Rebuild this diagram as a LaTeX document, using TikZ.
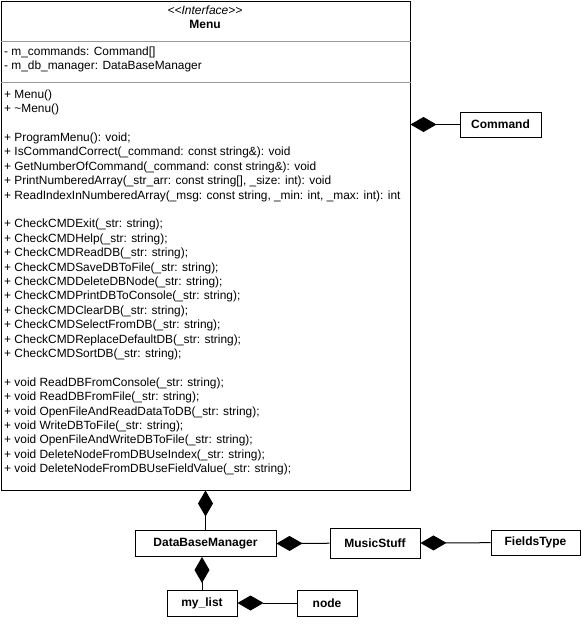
\documentclass[tikz,border=0pt]{standalone}
\usepackage{fontspec}
\setmainfont{Liberation Sans}
\usetikzlibrary{calc,positioning}
\usetikzlibrary{arrows.meta}
\tikzstyle{cls}=[draw, line width=1pt, fill=white, rectangle, minimum height=26pt, inner sep=0pt, font=\bfseries\fontsize{12}{14.4}\selectfont]
\tikzstyle{member}=[anchor=north west, align=left, inner sep=0pt, font=\fontsize{11.9}{14.4}\selectfont]
\tikzstyle{comp}=[{Diamond[length=26pt,width=15pt]}-, line width=1pt]
\tikzstyle{sep}=[draw=black!40, line width=1pt]

\begin{document}
\begin{tikzpicture}[x=1pt,y=-1pt]
\useasboundingbox (0,0) rectangle (581,630);
\node (menu) [draw, line width=1pt, rectangle, anchor=north west, minimum width=409pt, minimum height=489pt, inner sep=0pt] at (0.5,0.5) {};
\node (stereo) [font=\itshape\fontsize{12}{14.4}\selectfont, inner sep=0pt] at (205,10) {<\kern0pt<Interface>\kern0pt>};
\node (title) [font=\bfseries\fontsize{12}{14.4}\selectfont, inner sep=0pt] at (205,24) {Menu};
\draw [sep] ($(menu.north west)+(0,40.5)$) -- ($(menu.north east)+(0,40.5)$);
\draw [sep] ($(menu.north west)+(0,82)$) -- ($(menu.north east)+(0,82)$);
\node (attrs) [member] at (4,46.5) {- m\_commands: Command[]\\- m\_db\_manager: DataBaseManager};
\node (ops) [member] at (4,89.5) {+ Menu()\\+ \textasciitilde Menu()\\[14.4pt]
+ ProgramMenu(): void;\\
+ IsCommandCorrect(\_command: const string\&): void\\
+ GetNumberOfCommand(\_command: const string\&): void\\
+ PrintNumberedArray(\_str\_arr: const string[], \_size: int): void\\
+ ReadIndexInNumberedArray(\_msg: const string, \_min: int, \_max: int): int\\[14.4pt]
+ CheckCMDExit(\_str: string);\\
+ CheckCMDHelp(\_str: string);\\
+ CheckCMDReadDB(\_str: string);\\
+ CheckCMDSaveDBToFile(\_str: string);\\
+ CheckCMDDeleteDBNode(\_str: string);\\
+ CheckCMDPrintDBToConsole(\_str: string);\\
+ CheckCMDClearDB(\_str: string);\\
+ CheckCMDSelectFromDB(\_str: string);\\
+ CheckCMDReplaceDefaultDB(\_str: string);\\
+ CheckCMDSortDB(\_str: string);\\[14.4pt]
+ void ReadDBFromConsole(\_str: string);\\
+ void ReadDBFromFile(\_str: string);\\
+ void OpenFileAndReadDataToDB(\_str: string);\\
+ void WriteDBToFile(\_str: string);\\
+ void OpenFileAndWriteDBToFile(\_str: string);\\
+ void DeleteNodeFromDBUseIndex(\_str: string);\\
+ void DeleteNodeFromDBUseFieldValue(\_str: string);};

\node (command) [cls, minimum width=81pt, minimum height=25pt] at (500.5,124.5) {Command};
\node (dbmanager) [cls, minimum width=141pt] at (205.5,543.5) {DataBaseManager};
\node (music) [cls, minimum width=90pt, minimum height=30pt] at (375,543) {MusicStuff};
\node (fields) [cls, minimum width=89pt, minimum height=25pt] at (535.5,542.5) {FieldsType};
\node (mylist) [cls, minimum width=70pt] at (202,603) {my\_list};
\node (lnode) [cls, minimum width=60pt] at (327,603) {node};

\draw [comp] (menu.east |- command) -- (command);
\draw [comp] (menu.south -| dbmanager) -- (dbmanager);
\draw [comp] (dbmanager.east) -- (music);
\draw [comp] (music.east) -- (fields);
\draw [comp] (dbmanager.south -| mylist) -- (mylist);
\draw [comp] (mylist.east) -- (lnode);
\end{tikzpicture}
\end{document}
